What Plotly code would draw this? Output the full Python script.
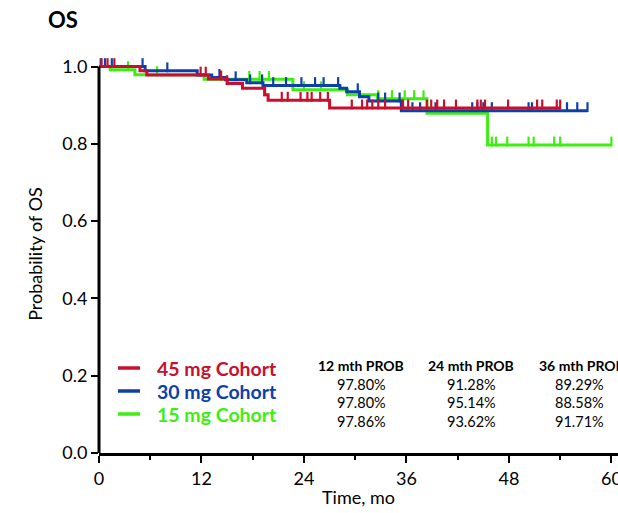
import numpy as np
import plotly.graph_objects as go

# ---------------- data ----------------
red_t = [0, 4.8, 5.6, 12.8, 15.0, 16.8, 19.4, 19.8, 27.0, 54.0]
red_s = [1.0, 0.989, 0.978, 0.968, 0.956, 0.944, 0.927, 0.913, 0.893, 0.893]
red_c = [0.3, 1.0, 1.8, 11.9, 12.5, 14.3, 15.0, 19.4, 21.4, 22.1, 23.6, 24.4, 24.9,
         25.9, 26.8, 29.6, 30.8, 31.4, 32.0, 32.7, 33.5, 35.6, 36.2, 38.4, 38.9,
         39.6, 40.4, 41.8, 44.3, 44.7, 45.2, 47.9, 51.3, 51.9, 53.6, 54.0]

blue_t = [0, 5.4, 11.5, 13.2, 14.8, 17.3, 19.2, 28.2, 29.0, 30.5, 31.6, 35.4, 57.2]
blue_s = [1.0, 0.989, 0.978, 0.972, 0.966, 0.958, 0.951, 0.944, 0.935, 0.922, 0.911, 0.886, 0.886]
blue_c = [0.2, 0.7, 1.5, 5.1, 8.0, 14.1, 16.0, 17.7, 19.1, 20.4, 21.9, 23.7, 25.3,
          26.3, 28.0, 30.3, 32.7, 33.5, 35.2, 36.7, 37.6, 39.4, 43.7, 44.3, 45.0,
          46.0, 50.3, 50.7, 54.8, 56.0, 57.2]

green_t = [0, 1.3, 4.2, 12.3, 22.7, 29.1, 32.6, 38.4, 45.5, 60.0]
green_s = [1.0, 0.992, 0.979, 0.967, 0.940, 0.927, 0.917, 0.879, 0.797, 0.797]
green_c = [3.4, 6.8, 17.6, 18.8, 19.9, 24.0, 26.0, 32.7, 34.3, 35.8, 36.9, 38.0,
           46.0, 46.5, 47.8, 50.3, 50.9, 53.3, 54.0, 60.0]

cohorts = ["45 mg Cohort", "30 mg Cohort", "15 mg Cohort"]
colors = ["#C8102E", "#0F3FA8", "#3CEF10"]
col_headers = ["12 mth PROB", "24 mth PROB", "36 mth PROB"]
prob_12 = ["97.80%", "97.80%", "97.86%"]
prob_24 = ["91.28%", "95.14%", "93.62%"]
prob_36 = ["89.29%", "88.58%", "91.71%"]

x_ticks = [0, 12, 24, 36, 48, 60]
y_ticks = [0.0, 0.2, 0.4, 0.6, 0.8, 1.0]

# ---------------- layout geometry ----------------
W, H = 618, 513
L, R, T, B = 99, 0, 55, 60
X_MAX = 60.77
Y_MAX = 1.03
PW, PH = W - L - R, H - T - B
FONT = "Lato, 'Open Sans', sans-serif"


def px_x(px):
    return (px - L) / PW


def px_y(py):
    return 1 - (py - T) / PH


def step_at(ts, ss, c):
    idx = np.searchsorted(np.array(ts), np.array(c), side="right") - 1
    return np.array(ss)[idx]


tick_off = 3.5 / (PH / Y_MAX)  # censor tick sits on top of the line

fig = go.Figure()
series = [(green_t, green_s, green_c, 2), (blue_t, blue_s, blue_c, 1), (red_t, red_s, red_c, 0)]
for ts, ss, cs, k in series:
    fig.add_trace(go.Scatter(x=ts, y=ss, mode="lines", line=dict(color=colors[k], width=3, shape="hv"),
                             showlegend=False, hoverinfo="skip"))
    fig.add_trace(go.Scatter(x=cs, y=step_at(ts, ss, cs) + tick_off, mode="markers",
                             marker=dict(symbol="line-ns", size=7,
                                         line=dict(color=colors[k], width=2.2)),
                             showlegend=False, hoverinfo="skip", cliponaxis=False))

shapes = [dict(type="line", xref="paper", yref="y", x0=0, x1=0, y0=0, y1=1.0,
               line=dict(color="black", width=3), layer="above")]
ann = []
# title
ann.append(dict(text="<b>OS</b>", xref="paper", yref="paper", x=px_x(46), y=px_y(19),
                xanchor="left", yanchor="middle", showarrow=False,
                font=dict(family=FONT, size=22, color="black")))
# legend
leg_y = [368, 391, 414]
for i, name in enumerate(cohorts):
    shapes.append(dict(type="line", xref="paper", yref="paper", x0=px_x(118), x1=px_x(140),
                       y0=px_y(leg_y[i]), y1=px_y(leg_y[i]), line=dict(color=colors[i], width=3.5)))
    ann.append(dict(text="<b>%s</b>" % name, xref="paper", yref="paper", x=px_x(155), y=px_y(leg_y[i]),
                    xanchor="left", yanchor="middle", showarrow=False,
                    font=dict(family=FONT, size=19.5, color=colors[i])))
# table
col_x = [361, 471, 582]
cols = [prob_12, prob_24, prob_36]
for j, hdr in enumerate(col_headers):
    ann.append(dict(text="<b>%s</b>" % hdr, xref="paper", yref="paper", x=px_x(col_x[j]), y=px_y(365),
                    xanchor="center", yanchor="middle", showarrow=False,
                    font=dict(family=FONT, size=14, color="black")))
    for i, v in enumerate(cols[j]):
        ann.append(dict(text=v, xref="paper", yref="paper", x=px_x(col_x[j] - 3 * (j == 2)),
                        y=px_y(384 + 18.5 * i),
                        xanchor="center", yanchor="middle", showarrow=False,
                        font=dict(family=FONT, size=14.5, color="black")))

fig.update_layout(
    width=W, height=H, margin=dict(l=L, r=R, t=T, b=B, autoexpand=False),
    paper_bgcolor="white", plot_bgcolor="white",
    font=dict(family=FONT, size=17, color="black"),
    shapes=shapes, annotations=ann,
    xaxis=dict(range=[0, X_MAX], tickvals=x_ticks, ticktext=[str(v) for v in x_ticks],
               showline=True, linecolor="black", linewidth=3, showgrid=False, zeroline=False,
               ticks="outside", ticklen=7, tickwidth=2, tickcolor="black", ticklabeloverflow="allow",
               minor=dict(dtick=6, tick0=0, ticks="outside", ticklen=4, tickwidth=2, tickcolor="black"),
               tickfont=dict(size=18), title=dict(text="Time, mo", font=dict(size=18), standoff=4)),
    yaxis=dict(range=[0, Y_MAX], tickvals=y_ticks, ticktext=["%.1f" % v for v in y_ticks],
               showline=False, showgrid=False, zeroline=False,
               ticks="outside", ticklen=7, tickwidth=2, tickcolor="black",
               tickfont=dict(size=18), title=dict(text="Probability of OS", font=dict(size=18), standoff=14)),
)

fig.write_html("out.html", config={"displayModeBar": False},
               post_script="document.body.style.margin='0';document.body.style.overflow='hidden';")
